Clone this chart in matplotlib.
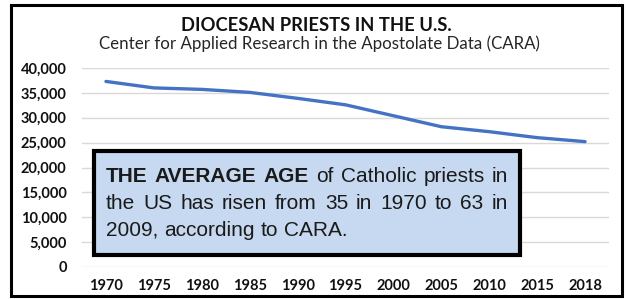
import matplotlib.pyplot as plt
import matplotlib.patches as patches
from matplotlib.ticker import FuncFormatter

# Diocesan priests in the U.S. (CARA)
years = ['1970', '1975', '1980', '1985', '1990', '1995',
         '2000', '2005', '2010', '2015', '2018']
priests = [37300, 36000, 35700, 35100, 33900, 32600,
           30400, 28200, 27200, 26000, 25200]
y_ticks = [0, 5000, 10000, 15000, 20000, 25000, 30000, 35000, 40000]

title = 'DIOCESAN PRIESTS IN THE U.S.'
subtitle = 'Center for Applied Research in the Apostolate Data (CARA)'
box_lines = [
    [('THE', True), ('AVERAGE', True), ('AGE', True), ('of', False),
     ('Catholic', False), ('priests', False), ('in', False)],
    [('the', False), ('US', False), ('has', False), ('risen', False),
     ('from', False), ('35', False), ('in', False), ('1970', False),
     ('to', False), ('63', False), ('in', False)],
    [('2009,', False), ('according', False), ('to', False), ('CARA.', False)],
]

W, H = 626, 299
fig = plt.figure(figsize=(W / 100, H / 100), dpi=100)
ax = fig.add_axes([82 / W, 1 - 267 / H, (609 - 82) / W, (267 - 68) / H])

x = range(len(years))
ax.plot(x, priests, color='#4472C4', lw=2.4, solid_joinstyle='round',
        solid_capstyle='round', zorder=3)

ax.set_xlim(-0.5, len(years) - 0.5)
ax.set_ylim(0, 40000)
ax.set_yticks(y_ticks)
ax.yaxis.set_major_formatter(FuncFormatter(lambda v, p: f'{int(v):,}'))
ax.set_xticks(list(x))
ax.set_xticklabels(years)
ax.grid(axis='y', color='#D9D9D9', lw=1)
ax.set_axisbelow(True)
for s in ax.spines.values():
    s.set_visible(False)
ax.tick_params(length=0, labelsize=10.5, colors='#111111')
ax.tick_params(axis='y', pad=11)
ax.tick_params(axis='x', pad=9)
for lab in ax.get_xticklabels() + ax.get_yticklabels():
    lab.set_fontfamily('Lato')
    lab.set_fontweight('bold')

fig.text(316 / W, 1 - 31 / H, title, ha='center', va='baseline',
         fontsize=13.2, fontweight='bold', family='Lato', color='#111111')
fig.text(319 / W, 1 - 49 / H, subtitle, ha='center', va='baseline',
         fontsize=12.2, family='Lato', color='#262626')

# outer frame
fig.patches.append(patches.Rectangle((10.5 / W, 1 - 296 / H), (622 - 10.5) / W,
                                     (296 - 4.5) / H, transform=fig.transFigure,
                                     fill=False, ec='black', lw=2.2))

# callout box
bx0, bx1, by0, by1 = 94, 520, 151, 255
fig.patches.append(patches.Rectangle((bx0 / W, 1 - by1 / H), (bx1 - bx0) / W,
                                     (by1 - by0) / H, transform=fig.transFigure,
                                     fc='#C6D9F0', ec='black', lw=3, zorder=5))

fig.canvas.draw()
renderer = fig.canvas.get_renderer()
left, right = 106, 508
baselines = [182, 209, 236]
fs = 15
for i, (words, base) in enumerate(zip(box_lines, baselines)):
    arts = []
    for w, b in words:
        t = fig.text(0, 1 - base / H, w, fontsize=fs, family='Liberation Sans',
                     fontweight='bold' if b else 'normal', va='baseline',
                     color='#1a1a1a', zorder=6)
        arts.append(t)
    widths = [a.get_window_extent(renderer).width for a in arts]
    if i < len(box_lines) - 1:
        gap = (right - left - sum(widths)) / (len(arts) - 1)
    else:
        gap = fs * 100 / 72 * 0.278
    xpos = left
    for a, wd in zip(arts, widths):
        a.set_x(xpos / W)
        xpos += wd + gap

fig.savefig('out.png', dpi=100)
